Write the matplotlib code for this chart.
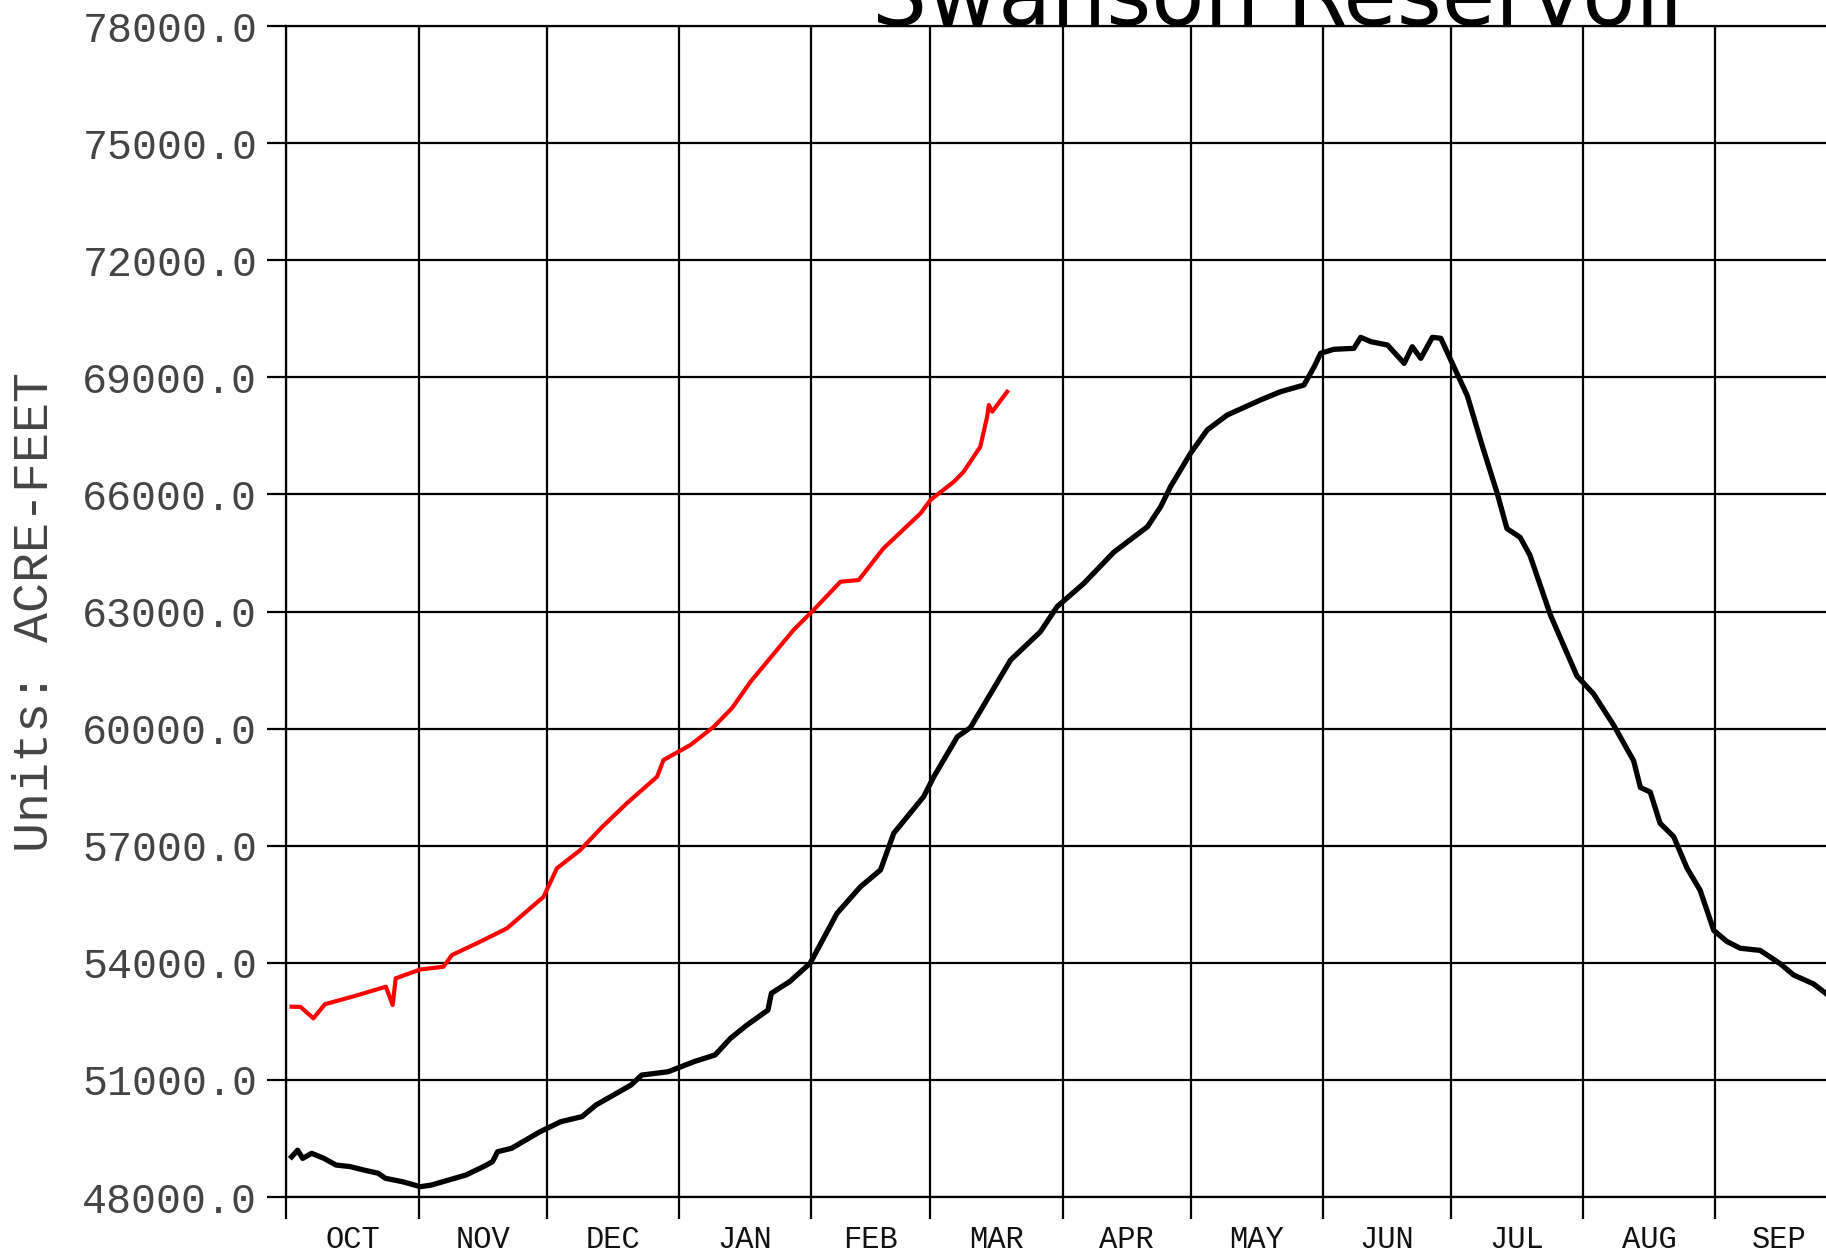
import numpy as np
import matplotlib
matplotlib.use("Agg")
import matplotlib.pyplot as plt
from matplotlib.ticker import FixedLocator, NullFormatter, FixedFormatter

# water-year day offsets (Oct 1 = 0) and storage in acre-feet
month_names = ["OCT", "NOV", "DEC", "JAN", "FEB", "MAR", "APR", "MAY", "JUN", "JUL", "AUG", "SEP"]
month_days = [31, 30, 31, 31, 28, 31, 30, 31, 30, 31, 31, 30]

prev_days = [1.2, 2.6, 3.8, 5.9, 8.8, 11.6, 14.9, 18.2, 21.5, 23.2, 27.3, 31.4, 33.9, 38, 42.1,
             46.2, 48.3, 49.5, 52.8, 59.4, 64.3, 69.3, 72.6, 80.8, 83.3, 89.5, 95.6, 100.5,
             104.1, 107.9, 112.9, 113.7, 118, 122.8, 129.1, 134.6, 139.3, 142.4, 149.4, 151.8,
             157.3, 160.4, 169.8, 176.8, 180.7, 187, 194, 201.9, 205, 207.3, 212, 215.9, 220.6,
             228.4, 233.1, 238.6, 241, 242.5, 245.6, 250.3, 251.9, 254.3, 258.2, 262.1, 264,
             266, 268.7, 270.7, 273, 276.9, 280.4, 283.9, 286.2, 289.3, 291.6, 296.4, 302.6,
             306.5, 311.2, 315.9, 317.5, 319.8, 322.1, 325.3, 328.4, 331.5, 334.7, 337.8,
             340.9, 345.6, 350.3, 353.4, 358.1, 362]
prev_storage = [49030, 49200, 48990, 49120, 48990, 48820, 48780, 48690, 48610, 48480, 48390,
                48265, 48305, 48435, 48565, 48780, 48905, 49160, 49250, 49670, 49930, 50060,
                50360, 50870, 51125, 51210, 51470, 51640, 52065, 52400, 52790, 53220, 53520,
                53990, 55270, 55950, 56380, 57320, 58256, 58768, 59790, 60030, 61758, 62483,
                63124, 63723, 64520, 65173, 65686, 66198, 67054, 67651, 68035, 68420, 68632,
                68803, 69272, 69615, 69718, 69743, 70025, 69913, 69828, 69359, 69785, 69487,
                70025, 70000, 69450, 68530, 67250, 66035, 65125, 64900, 64440, 62910, 61351,
                60892, 60093, 59178, 58491, 58376, 57577, 57233, 56432, 55860, 54830, 54546,
                54374, 54318, 53975, 53690, 53460, 53130]

curr_days = [1.2, 3.3, 6.3, 9.0, 16, 23.3, 24.9, 25.6, 31.4, 36.8, 38.8, 45, 51.7, 60.3, 63.4,
             68.9, 74, 79.8, 86.9, 88.4, 94.7, 100.2, 104.5, 108.8, 118.9, 123.6, 129.9, 134.2,
             140, 148.7, 151, 156.5, 158.8, 162.7, 164.3, 164.7, 165.5, 169]
curr_storage = [52876, 52870, 52578, 52940, 53150, 53388, 52919, 53603, 53830, 53900, 54200,
                54520, 54884, 55694, 56421, 56890, 57480, 58087, 58768, 59196, 59580, 60049,
                60530, 61200, 62527, 63039, 63764, 63808, 64620, 65516, 65857, 66326, 66582,
                67222, 67991, 68291, 68120, 68632]

y_ticks = list(range(48000, 78001, 3000))

fig = plt.figure(figsize=(18.26, 12.52), dpi=100, facecolor='w')
# plot area runs past the right edge of the picture, as in the original crop
ax = fig.add_axes([0.1569, 0.0439, 0.8524, 0.9353])

ax.plot(prev_days, prev_storage, color='black', lw=3.8, zorder=3)
ax.plot(curr_days, curr_storage, color='red', lw=3.0, zorder=4)

bounds = np.concatenate([[0], np.cumsum(month_days)])
mids = (bounds[:-1] + bounds[1:]) / 2
ax.set_xlim(0, 365)
ax.set_ylim(48000, 78000)

ax.xaxis.set_major_locator(FixedLocator(bounds))
ax.xaxis.set_major_formatter(NullFormatter())
ax.xaxis.set_minor_locator(FixedLocator(mids))
ax.xaxis.set_minor_formatter(FixedFormatter(month_names))
ax.set_yticks(y_ticks)
ax.set_yticklabels(["%.1f" % v for v in y_ticks])

ax.grid(True, which='major', color='black', lw=1.6, zorder=1)
for s in ax.spines.values():
    s.set_linewidth(1.6)
ax.tick_params(axis='x', which='major', length=16, width=1.6, direction='out')
ax.tick_params(axis='x', which='minor', length=0, pad=20, labelsize=22, labelcolor='#111111')
ax.tick_params(axis='y', which='major', length=14, width=1.6, direction='out', pad=7,
               labelsize=30, labelcolor='#444444')
for lab in ax.get_xticklabels(minor=True):
    lab.set_fontfamily('Liberation Mono')
for lab in ax.get_yticklabels():
    lab.set_fontfamily('Liberation Mono')

ax.set_ylabel("Units: ACRE-FEET", fontfamily='Liberation Mono', fontsize=36, color='#444444',
              va='center')
ax.yaxis.set_label_coords(-0.1616, 0.5)

fig.text(0.7030, 1 - 25 / 1252, "Swanson Reservoir", fontfamily='DejaVu Sans', fontsize=62.5,
         ha='center', va='baseline', color='black')

fig.savefig('out.png', dpi=100, facecolor='w')
plt.close(fig)
